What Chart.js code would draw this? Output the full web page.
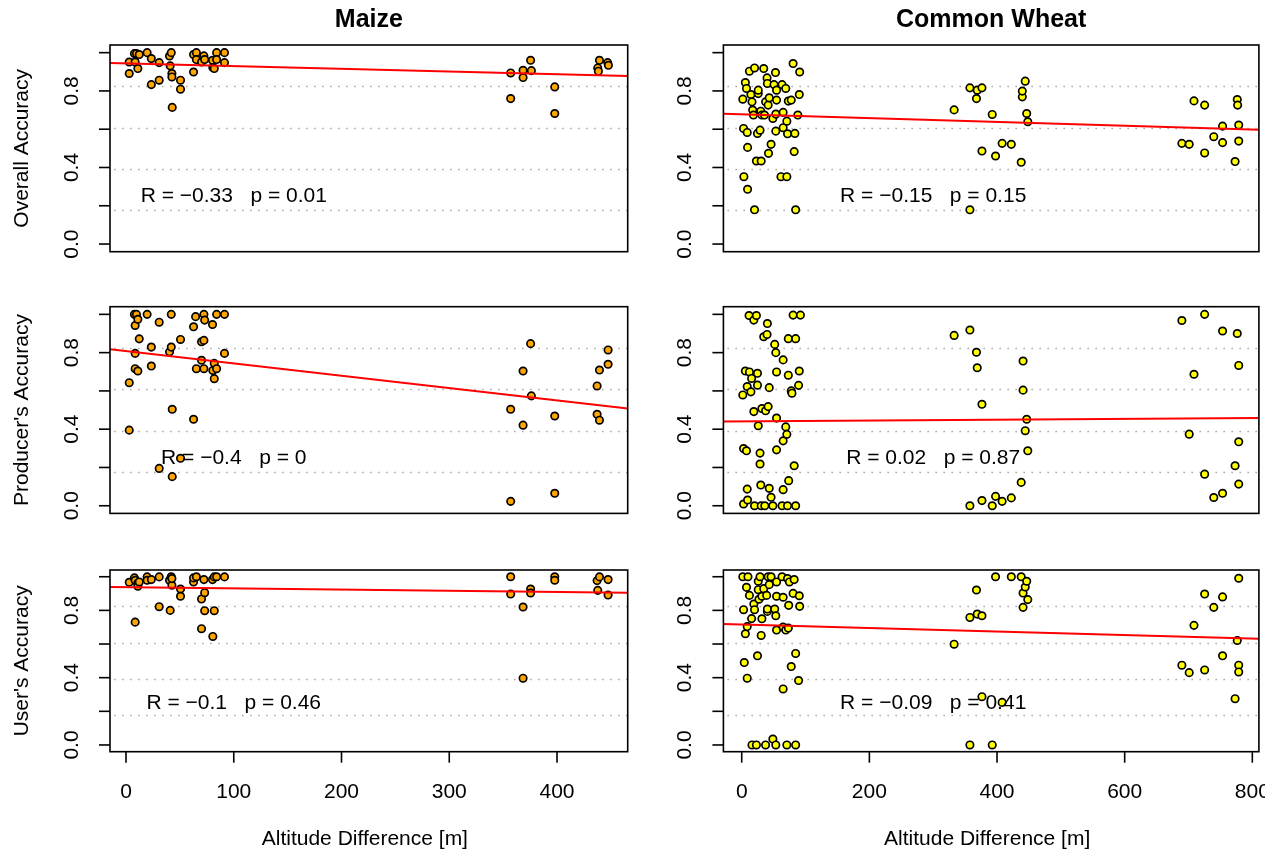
<!DOCTYPE html>
<html>
<head>
<meta charset="utf-8">
<script src="https://cdn.jsdelivr.net/npm/chart.js@4.4.0/dist/chart.umd.min.js"></script>
<style>
body { margin: 0; background: #fff; }
#wrap { position: relative; width: 1265px; height: 857px; overflow: hidden; background: #fff; }
canvas { position: absolute; }
</style>
</head>
<body>
<div id="wrap"></div>
<script>
var crops = ['Maize', 'Common Wheat'];
var metrics = ['Overall Accuracy', "Producer's Accuracy", "User's Accuracy"];
var xTitle = 'Altitude Difference [m]';

var yTicks = [0, 0.2, 0.4, 0.6, 0.8, 1.0];
var yTickLabels = ['0.0', '', '0.4', '', '0.8', ''];
var xTicks = [[0, 100, 200, 300, 400], [0, 200, 400, 600, 800]];
var xRanges = [[-14.85, 465.6], [-28.7, 810.3]];
var yRange = [-0.04, 1.04];
var gridLevels = [0.176, 0.392, 0.608, 0.824];

// [altitude difference, accuracy]
var maizeOverall = [[3.0,0.951],[3.0,0.891],[7.8,0.995],[8.5,0.951],[9.7,0.995],[11.0,0.917],[12.3,0.990],[19.6,1.0],[23.5,0.969],[23.5,0.833],[30.8,0.948],[30.8,0.856],[40.4,0.983],[42.0,1.0],[41.0,0.931],[42.6,0.891],[42.6,0.873],[42.9,0.714],[50.6,0.856],[50.6,0.809],[62.7,0.990],[62.7,0.899],[65.3,1.0],[65.3,0.964],[70.1,0.951],[72.3,0.983],[73.0,0.964],[80.3,0.960],[80.6,0.922],[81.9,0.917],[84.1,1.0],[84.1,0.964],[91.4,1.0],[91.4,0.948],
  [357.0,0.894],[357.0,0.760],[368.5,0.908],[368.5,0.870],[375.5,0.960],[376.2,0.906],[397.9,0.821],[397.9,0.682],[437.8,0.920],[438.4,0.903],[439.4,0.960],[447.0,0.948],[447.7,0.934]];
var maizeProducer = [[3.0,0.643],[3.0,0.395],[7.8,1.0],[8.5,0.942],[8.5,0.796],[8.5,0.716],[9.7,1.0],[11.0,0.974],[11.0,0.704],[12.3,0.872],[19.6,1.0],[23.5,0.829],[23.5,0.730],[30.8,0.959],[30.8,0.195],[40.4,0.804],[42.0,1.0],[42.0,0.829],[42.9,0.504],[42.9,0.152],[50.6,0.869],[50.6,0.248],[62.7,0.935],[62.7,0.452],[64.6,0.988],[65.3,0.716],[70.1,0.857],[70.1,0.760],[72.3,1.0],[73.0,0.970],[72.3,0.864],[72.3,0.716],[80.3,0.947],[80.6,0.707],[81.9,0.744],[81.9,0.664],[84.1,0.716],[84.1,1.0],[91.4,1.0],[91.4,0.796],
  [357.0,0.504],[357.0,0.023],[368.5,0.704],[368.5,0.421],[375.5,0.847],[376.2,0.574],[397.9,0.469],[397.9,0.065],[437.2,0.626],[437.2,0.478],[439.4,0.447],[439.4,0.709],[447.4,0.739],[447.4,0.814]];
var maizeUser = [[3.0,0.967],[7.8,0.993],[8.5,0.979],[8.5,0.730],[11.0,0.963],[11.0,0.943],[12.3,0.969],[19.6,0.999],[19.6,0.979],[23.5,0.983],[30.8,0.999],[30.8,0.822],[40.4,0.979],[41.0,0.800],[42.0,1.0],[42.6,0.949],[42.6,0.989],[50.6,0.927],[50.6,0.884],[62.7,0.969],[62.7,0.993],[65.3,1.0],[70.1,0.868],[70.1,0.691],[72.3,0.983],[73.0,0.905],[73.0,0.798],[80.3,0.983],[80.6,0.645],[81.9,0.798],[81.9,0.999],[84.1,1.0],[91.4,0.999],
  [357.0,1.0],[357.0,0.897],[368.5,0.820],[368.5,0.397],[375.5,0.927],[375.5,0.903],[397.9,1.0],[397.9,0.979],[437.2,0.977],[437.8,0.919],[439.4,0.999],[447.4,0.983],[447.4,0.891]];

var wheatOverall = [[1.7,0.757],[2.9,0.604],[3.4,0.352],[5.7,0.844],[7.5,0.813],[8.6,0.583],[9.2,0.505],[9.2,0.286],[12.1,0.903],[14.4,0.781],[16.1,0.743],[17.2,0.700],[18.4,0.674],[20.1,0.920],[20.1,0.179],[23.0,0.434],[24.7,0.578],[25.9,0.786],[25.9,0.804],[28.7,0.595],[29.9,0.694],[30.5,0.434],[31.6,0.674],[34.5,0.917],[35.6,0.674],[37.4,0.743],[39.7,0.868],[40.2,0.839],[41.4,0.726],[42.0,0.474],[43.1,0.764],[46.0,0.521],[48.8,0.656],[50.6,0.833],[52.9,0.896],[53.4,0.679],[53.4,0.590],[54.6,0.752],[54.6,0.804],[61.5,0.352],[63.2,0.833],[64.9,0.688],[64.9,0.608],[69.0,0.813],[70.7,0.642],[70.7,0.352],[71.8,0.576],[73.0,0.747],[77.6,0.752],[80.5,0.943],[82.2,0.483],[83.3,0.578],[84.5,0.179],[87.9,0.674],[90.2,0.781],[90.8,0.899],
  [332.8,0.701],[357.5,0.816],[357.5,0.179],[367.8,0.760],[369.0,0.804],[376.4,0.816],[376.4,0.486],[392.5,0.677],[397.7,0.460],[408.0,0.526],[422.4,0.521],[437.9,0.427],[439.6,0.769],[439.6,0.799],[444.2,0.851],[446.5,0.682],[448.2,0.639],
  [689.6,0.526],[701.1,0.521],[708.6,0.748],[725.3,0.726],[725.3,0.476],[739.6,0.561],[753.4,0.616],[753.4,0.530],[773.0,0.431],[776.4,0.755],[777.0,0.726],[778.7,0.622],[778.7,0.538]];
var wheatProducer = [[1.7,0.579],[2.9,0.299],[2.9,0.009],[5.7,0.704],[7.5,0.287],[8.6,0.623],[8.6,0.087],[9.2,0.030],[11.5,0.994],[12.1,0.699],[14.4,0.595],[15.5,0.665],[19.0,0.970],[19.0,0.492],[20.1,0.0],[23.0,0.994],[24.7,0.692],[24.7,0.630],[25.9,0.418],[28.7,0.275],[28.7,0.218],[29.9,0.108],[30.5,0.0],[31.6,0.508],[34.5,0.883],[36.2,0.0],[37.4,0.496],[39.7,0.895],[40.2,0.952],[41.4,0.518],[43.1,0.617],[43.1,0.091],[46.0,0.044],[48.8,0.0],[51.7,0.843],[53.4,0.800],[54.6,0.699],[54.6,0.292],[54.6,0.458],[63.2,0.0],[64.9,0.339],[64.9,0.762],[64.9,0.084],[69.0,0.412],[70.7,0.373],[71.8,0.0],[73.0,0.682],[73.0,0.873],[73.6,0.131],[77.6,0.600],[78.7,0.588],[80.5,0.996],[82.2,0.209],[84.5,0.873],[84.5,0.0],[89.1,0.629],[90.2,0.704],[92.0,0.996],
  [332.8,0.890],[357.5,0.918],[357.5,0.0],[367.8,0.802],[369.0,0.721],[376.4,0.530],[376.4,0.027],[392.5,0.0],[397.7,0.049],[408.0,0.023],[422.4,0.041],[437.9,0.122],[440.8,0.756],[440.8,0.604],[444.2,0.392],[446.5,0.452],[448.2,0.287],
  [689.6,0.968],[701.1,0.374],[708.6,0.687],[725.3,1.0],[725.3,0.165],[739.6,0.043],[753.4,0.913],[753.4,0.065],[773.0,0.209],[776.4,0.900],[778.7,0.733],[778.7,0.334],[778.7,0.113]];
var wheatUser = [[1.7,1.0],[2.9,0.804],[4.0,0.490],[5.7,0.661],[7.5,0.937],[8.6,0.704],[8.6,0.397],[9.8,1.0],[12.1,0.889],[15.5,0.751],[16.1,0.0],[19.0,0.838],[20.1,0.804],[23.0,0.0],[24.7,0.530],[25.9,0.973],[25.9,0.923],[27.0,0.866],[28.7,1.0],[30.5,0.651],[31.6,0.884],[31.6,0.750],[34.5,0.929],[37.4,0.0],[39.1,0.889],[40.2,0.794],[40.2,0.808],[41.4,1.0],[43.1,0.953],[46.0,1.0],[48.8,0.035],[51.7,0.808],[53.4,0.768],[53.4,0.0],[54.6,0.969],[54.6,0.683],[54.6,0.884],[63.2,1.0],[64.9,0.878],[64.9,0.701],[64.9,0.333],[69.0,0.683],[70.7,0.0],[71.8,0.989],[73.0,0.695],[73.6,0.830],[74.7,0.969],[77.6,0.466],[80.5,0.901],[82.2,0.983],[84.5,0.0],[84.5,0.544],[89.1,0.383],[90.2,0.887],[90.8,0.824],
  [332.8,0.599],[357.5,0.758],[357.5,0.0],[367.8,0.921],[369.0,0.778],[376.4,0.768],[376.4,0.287],[392.5,0.0],[397.7,1.0],[408.0,0.253],[422.4,1.0],[437.9,1.0],[440.8,0.818],[440.8,0.903],[444.2,0.939],[446.5,0.973],[448.2,0.864],
  [689.6,0.474],[701.1,0.430],[708.6,0.711],[725.3,0.897],[725.3,0.446],[739.6,0.818],[753.4,0.880],[753.4,0.530],[773.0,0.275],[776.4,0.621],[778.7,0.991],[778.7,0.474],[778.7,0.434]];

var panelPoints = [[maizeOverall, wheatOverall], [maizeProducer, wheatProducer], [maizeUser, wheatUser]];

// fitted line: accuracy at the left and right end of the x range
var maizeFit = [[0.946, 0.878], [0.818, 0.508], [0.939, 0.905]];
var wheatFit = [[0.681, 0.597], [0.440, 0.459], [0.719, 0.631]];

var maizeStats = ['R = \u22120.33   p = 0.01', 'R = \u22120.4   p = 0', 'R = \u22120.1   p = 0.46'];
var wheatStats = ['R = \u22120.15   p = 0.15', 'R = 0.02   p = 0.87', 'R = \u22120.09   p = 0.41'];
var statX = [100, 300];
var statY = 0.25;

var pointFill = ['#FFA500', '#FFFF00'];

// page layout
var colCanvas = [[0, 660], [660, 605]];
var rowCanvas = [[0, 280], [280, 260], [540, 317]];
var boxX = [[110, 627.7], [723.4, 1258.9]];
var boxY = [[45, 251.7], [306.7, 513.4], [570, 751.7]];

var FONT = '"Liberation Sans", Arial, Helvetica, sans-serif';

var rFrame = {
    id: 'rFrame',
    beforeDatasetsDraw: function (chart) {
        var ctx = chart.ctx, a = chart.chartArea, ys = chart.scales.y;
        ctx.save();
        ctx.strokeStyle = '#ababab';
        ctx.lineWidth = 1.4;
        ctx.setLineDash([1.6, 6.4]);
        gridLevels.forEach(function (v) {
            var py = Math.round(ys.getPixelForValue(v)) + 0.5;
            ctx.beginPath();
            ctx.moveTo(a.left + 4, py);
            ctx.lineTo(a.right, py);
            ctx.stroke();
        });
        ctx.restore();
    },
    afterDraw: function (chart) {
        var o = chart.options.plugins.rFrame;
        var ctx = chart.ctx, a = chart.chartArea, xs = chart.scales.x, ys = chart.scales.y;
        ctx.save();
        ctx.strokeStyle = '#000';
        ctx.fillStyle = '#000';
        ctx.lineWidth = 1.6;
        ctx.strokeRect(a.left, a.top, a.right - a.left, a.bottom - a.top);

        // y axis
        ctx.font = '21px ' + FONT;
        yTicks.forEach(function (v, i) {
            var py = ys.getPixelForValue(v);
            ctx.beginPath();
            ctx.moveTo(a.left, py);
            ctx.lineTo(a.left - 11, py);
            ctx.stroke();
            if (yTickLabels[i]) {
                ctx.save();
                ctx.translate(a.left - 38, py);
                ctx.rotate(-Math.PI / 2);
                ctx.textAlign = 'center';
                ctx.textBaseline = 'middle';
                ctx.fillText(yTickLabels[i], 0, 0);
                ctx.restore();
            }
        });
        if (o.col === 0) {
            ctx.save();
            ctx.translate(a.left - 88, (a.top + a.bottom) / 2);
            ctx.rotate(-Math.PI / 2);
            ctx.textAlign = 'center';
            ctx.textBaseline = 'middle';
            ctx.fillText(metrics[o.row], 0, 0);
            ctx.restore();
        }

        // x axis on the bottom row only
        if (o.row === 2) {
            xTicks[o.col].forEach(function (v) {
                var px = xs.getPixelForValue(v);
                ctx.beginPath();
                ctx.moveTo(px, a.bottom);
                ctx.lineTo(px, a.bottom + 11);
                ctx.stroke();
                ctx.textAlign = 'center';
                ctx.textBaseline = 'middle';
                ctx.fillText(String(v), px, a.bottom + 41);
            });
            ctx.textAlign = 'center';
            ctx.textBaseline = 'middle';
            ctx.fillText(xTitle, (a.left + a.right) / 2 - 4, a.bottom + 88);
        }

        // column title
        if (o.row === 0) {
            ctx.font = 'bold 25px ' + FONT;
            ctx.textAlign = 'center';
            ctx.textBaseline = 'middle';
            ctx.fillText(crops[o.col], (a.left + a.right) / 2, a.top - 25);
        }

        // correlation note
        ctx.font = '21px ' + FONT;
        ctx.textAlign = 'center';
        ctx.textBaseline = 'middle';
        var st = o.col === 0 ? maizeStats[o.row] : wheatStats[o.row];
        ctx.fillText(st, xs.getPixelForValue(statX[o.col]), ys.getPixelForValue(statY));
        ctx.restore();
    }
};

var wrap = document.getElementById('wrap');

function makePanel(row, col) {
    var cx = colCanvas[col], ry = rowCanvas[row];
    var c = document.createElement('canvas');
    c.width = cx[1];
    c.height = ry[1];
    c.style.left = cx[0] + 'px';
    c.style.top = ry[0] + 'px';
    c.style.width = cx[1] + 'px';
    c.style.height = ry[1] + 'px';
    wrap.appendChild(c);

    var xr = xRanges[col];
    var fit = col === 0 ? maizeFit[row] : wheatFit[row];
    var pts = panelPoints[row][col].map(function (p) { return { x: p[0], y: p[1] }; });

    new Chart(c, {
        type: 'scatter',
        data: {
            datasets: [{
                type: 'line',
                data: [{ x: xr[0], y: fit[0] }, { x: xr[1], y: fit[1] }],
                borderColor: '#FF0000',
                borderWidth: 2,
                pointRadius: 0,
                fill: false,
                tension: 0
            }, {
                data: pts,
                pointRadius: 3.7,
                pointBackgroundColor: pointFill[col],
                pointBorderColor: '#000000',
                pointBorderWidth: 1.7,
                showLine: false
            }]
        },
        options: {
            responsive: false,
            animation: false,
            devicePixelRatio: 1,
            events: [],
            layout: {
                padding: {
                    left: boxX[col][0] - cx[0],
                    right: cx[0] + cx[1] - boxX[col][1],
                    top: boxY[row][0] - ry[0],
                    bottom: ry[0] + ry[1] - boxY[row][1]
                }
            },
            scales: {
                x: { type: 'linear', min: xr[0], max: xr[1], display: false },
                y: { type: 'linear', min: yRange[0], max: yRange[1], display: false }
            },
            plugins: {
                legend: { display: false },
                tooltip: { enabled: false },
                rFrame: { row: row, col: col }
            }
        },
        plugins: [rFrame]
    });
}

for (var r = 0; r < 3; r++) {
    for (var k = 0; k < 2; k++) {
        makePanel(r, k);
    }
}
</script>
</body>
</html>
